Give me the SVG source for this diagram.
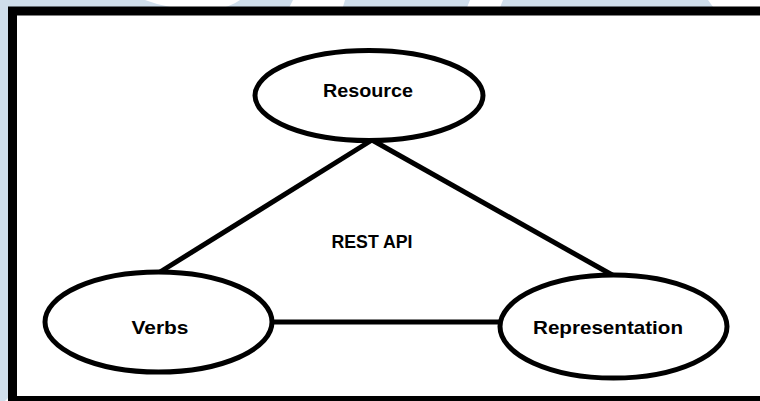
<svg xmlns="http://www.w3.org/2000/svg" width="760" height="401" viewBox="0 0 760 401">
  <style>
    .bg { fill: #cfdeeb; }
    .node { fill: #ffffff; stroke: #000000; stroke-width: 5; }
    .edge { stroke: #000000; stroke-width: 5; fill: none; }
    .label { font-family: "Liberation Sans", Arial, sans-serif; font-weight: bold; font-size: 19px; fill: #000000; text-anchor: middle; }
  </style>
  <rect x="0" y="0" width="760" height="401" fill="#ffffff"/>
  <g id="background">
    <rect class="bg" x="0" y="0" width="760" height="10"/>
    <polygon class="bg" points="0,0 10,0 10,396 5,401 0,401"/>
    <path d="M145,0 Q170,10 205,10 L215,10 Q232,6 240,0 Z" fill="#ffffff"/>
    <polygon points="293,0 345,0 342,10 288,10" fill="#ffffff"/>
    <polygon points="470,0 503,0 499,10 466,10" fill="#ffffff"/>
    <path d="M708,0 Q712,6 716,10 L760,10 L760,0 Z" fill="#ffffff"/>
  </g>
  <rect x="12.5" y="11" width="800" height="389.5" fill="#ffffff" stroke="#000000" stroke-width="9"/>
  <g id="connectors">
    <line class="edge" x1="372" y1="140" x2="160" y2="272"/>
    <line class="edge" x1="372" y1="140" x2="614" y2="276"/>
    <line class="edge" x1="272" y1="322" x2="500" y2="322"/>
  </g>
  <g id="resource">
    <ellipse class="node" cx="369" cy="95.5" rx="114" ry="45"/>
    <text class="label" x="368" y="97" textLength="90" lengthAdjust="spacingAndGlyphs">Resource</text>
  </g>
  <g id="verbs">
    <ellipse class="node" cx="158.5" cy="322" rx="113.5" ry="50"/>
    <text class="label" x="160" y="334" textLength="57" lengthAdjust="spacingAndGlyphs">Verbs</text>
  </g>
  <g id="representation">
    <ellipse class="node" cx="613.5" cy="326.5" rx="113.5" ry="51.5"/>
    <text class="label" x="608" y="334" textLength="150" lengthAdjust="spacingAndGlyphs">Representation</text>
  </g>
  <g id="rest-api">
    <text class="label" x="372" y="248" textLength="81" lengthAdjust="spacingAndGlyphs">REST API</text>
  </g>
</svg>
